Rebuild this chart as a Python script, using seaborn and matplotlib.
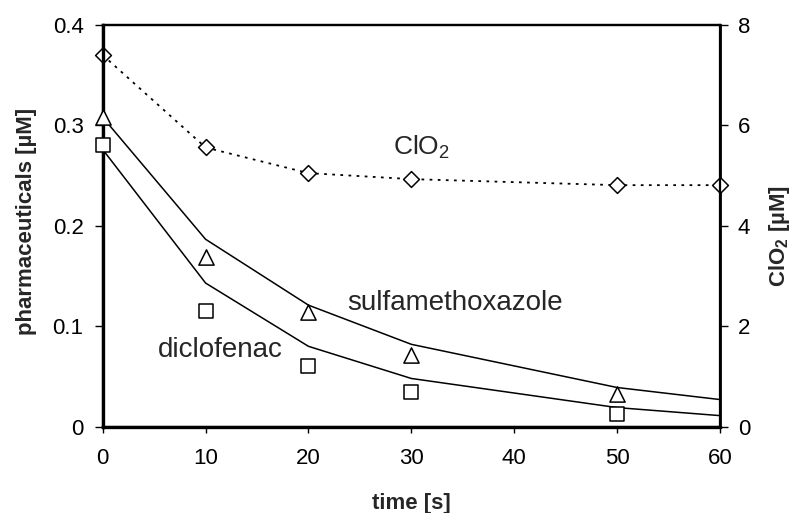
import matplotlib
matplotlib.use("Agg")
import matplotlib.pyplot as plt
import seaborn as sns
import pandas as pd
from matplotlib.ticker import FuncFormatter

# measured data
t_meas = [0, 10, 20, 30, 50]
smx_meas = [0.308, 0.169, 0.114, 0.071, 0.033]
dcf_meas = [0.280, 0.1155, 0.060, 0.035, 0.013]
# model lines
t_model = [0, 10, 20, 30, 50, 60]
smx_model = [0.308, 0.1866, 0.121, 0.082, 0.039, 0.027]
dcf_model = [0.276, 0.143, 0.080, 0.048, 0.019, 0.011]
# ClO2
t_clo2 = [0, 10, 20, 30, 50, 60]
clo2 = [7.40, 5.56, 5.05, 4.93, 4.81, 4.81]

x_ticks = [0, 10, 20, 30, 40, 50, 60]
left_ticks = [0, 0.1, 0.2, 0.3, 0.4]
right_ticks = [0, 2, 4, 6, 8]

sns.set_style("ticks")
plt.rcParams['font.family'] = ['Liberation Sans', 'DejaVu Sans']
plt.rcParams['mathtext.fontset'] = 'custom'
plt.rcParams['mathtext.rm'] = 'Liberation Sans'
plt.rcParams['mathtext.bf'] = 'Liberation Sans:bold'

fig = plt.figure(figsize=(7.92, 5.13), dpi=100)
ax = fig.add_axes([0.1297, 0.1683, 0.909 - 0.1297, 0.9513 - 0.1683])
ax2 = ax.twinx()

dm = pd.DataFrame({"t": t_model, "smx": smx_model, "dcf": dcf_model})
dmeas = pd.DataFrame({"t": t_meas, "smx": smx_meas, "dcf": dcf_meas})
dc = pd.DataFrame({"t": t_clo2, "clo2": clo2})

sns.lineplot(data=dm, x="t", y="smx", ax=ax, color="black", lw=1.1)
sns.lineplot(data=dm, x="t", y="dcf", ax=ax, color="black", lw=1.1)
sns.scatterplot(data=dmeas, x="t", y="smx", ax=ax, marker="^", s=120,
                facecolor="white", edgecolor="black", linewidth=1.1, zorder=5,
                clip_on=False)
sns.scatterplot(data=dmeas, x="t", y="dcf", ax=ax, marker="s", s=90,
                facecolor="white", edgecolor="black", linewidth=1.1, zorder=5,
                clip_on=False)

sns.lineplot(data=dc, x="t", y="clo2", ax=ax2, color="black", lw=1.3,
             linestyle=(0, (1.5, 3)))
sns.scatterplot(data=dc, x="t", y="clo2", ax=ax2, marker="D", s=65,
                facecolor="white", edgecolor="black", linewidth=1.1, zorder=5,
                clip_on=False)

ax.set_xlim(0, 60)
ax.set_ylim(0, 0.4)
ax2.set_ylim(0, 8)
ax.set_xticks(x_ticks)
ax.set_yticks(left_ticks)
ax2.set_yticks(right_ticks)
ax.yaxis.set_major_formatter(FuncFormatter(lambda v, p: "%g" % v))

for a in (ax, ax2):
    for s in a.spines.values():
        s.set_visible(True)
        s.set_linewidth(1.6)
        s.set_color("black")
    a.tick_params(direction="out", length=5.8, width=1.0, labelsize=16, colors="black")
ax.spines["left"].set_linewidth(2.4)
ax.spines["bottom"].set_linewidth(2.4)
ax2.spines["right"].set_linewidth(2.0)
ax.tick_params(axis="x", length=4.5, pad=11)
ax.tick_params(axis="y", pad=8)
ax2.tick_params(axis="y", pad=7)

ax.set_xlabel("time [s]", fontsize=16, fontweight="bold", va="center")
ax.xaxis.set_label_coords(0.5, -0.191)
ax.set_ylabel("pharmaceuticals [\u00b5M]", fontsize=16, fontweight="bold", va="center")
ax.yaxis.set_label_coords(-0.124, 0.512)
ax2.set_ylabel("ClO$_\\mathbf{2}$ [\u00b5M]", fontsize=16, fontweight="bold",
               rotation=90, va="center")
ax2.yaxis.set_label_coords(1.097, 0.475)

ax.text(28.2, 0.2706, "ClO$_2$", fontsize=19)
ax.text(23.8, 0.1164, "sulfamethoxazole", fontsize=20)
ax.text(5.4, 0.069, "diclofenac", fontsize=20)

ax.set_zorder(ax2.get_zorder() + 1)
ax.patch.set_visible(False)

fig.savefig("out.png", dpi=100)
